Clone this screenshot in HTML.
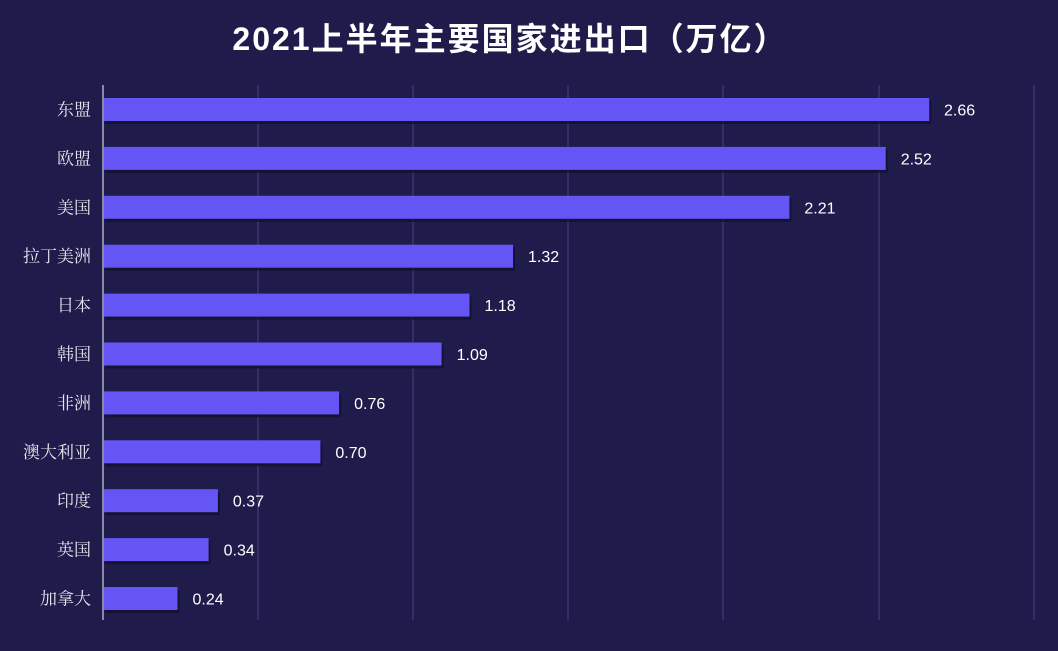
<!DOCTYPE html>
<html><head><meta charset="utf-8"><style>
body{margin:0;width:1058px;height:646px;background:#1f1b4a;overflow:hidden;}
svg text{font-family:"Liberation Sans","Noto Sans CJK SC",sans-serif;}
.l{font-family:"Noto Serif CJK SC",serif !important;fill:#e6e6ee;font-size:17px;}
.v{fill:#ffffff;font-size:16px;}
</style></head><body>
<svg width="1058" height="646" xmlns="http://www.w3.org/2000/svg">
<text x="510" y="50" text-anchor="middle" fill="#ffffff" font-size="32" font-weight="bold" letter-spacing="2">2021上半年主要国家进出口（万亿）</text>
<g stroke="#3a3670" stroke-width="1.5">
<line x1="258" y1="85" x2="258" y2="620"/><line x1="413" y1="85" x2="413" y2="620"/>
<line x1="568" y1="85" x2="568" y2="620"/><line x1="723" y1="85" x2="723" y2="620"/>
<line x1="879" y1="85" x2="879" y2="620"/><line x1="1034" y1="85" x2="1034" y2="620"/>
</g>
<g fill="#13112e" opacity="0.8">
<rect x="105" y="101" width="826.2" height="23"/>
<rect x="105" y="149.9" width="782.7" height="23"/>
<rect x="105" y="198.8" width="686.4" height="23"/>
<rect x="105" y="247.7" width="410" height="23"/>
<rect x="105" y="296.6" width="366.5" height="23"/>
<rect x="105" y="345.5" width="338.6" height="23"/>
<rect x="105" y="394.4" width="236.1" height="23"/>
<rect x="105" y="443.3" width="217.4" height="23"/>
<rect x="105" y="492.2" width="114.9" height="23"/>
<rect x="105" y="541.1" width="105.6" height="23"/>
<rect x="105" y="590" width="74.5" height="23"/>
</g>
<g fill="#6655f5">
<rect x="103" y="98" width="826.2" height="23"/>
<rect x="103" y="146.9" width="782.7" height="23"/>
<rect x="103" y="195.8" width="686.4" height="23"/>
<rect x="103" y="244.7" width="410" height="23"/>
<rect x="103" y="293.6" width="366.5" height="23"/>
<rect x="103" y="342.5" width="338.6" height="23"/>
<rect x="103" y="391.4" width="236.1" height="23"/>
<rect x="103" y="440.3" width="217.4" height="23"/>
<rect x="103" y="489.2" width="114.9" height="23"/>
<rect x="103" y="538.1" width="105.6" height="23"/>
<rect x="103" y="587" width="74.5" height="23"/>
</g>
<g text-anchor="end">
<text class="l" x="91" y="115.5">东盟</text>
<text class="l" x="91" y="164.4">欧盟</text>
<text class="l" x="91" y="213.3">美国</text>
<text class="l" x="91" y="262.2">拉丁美洲</text>
<text class="l" x="91" y="311.1">日本</text>
<text class="l" x="91" y="360">韩国</text>
<text class="l" x="91" y="408.9">非洲</text>
<text class="l" x="91" y="457.8">澳大利亚</text>
<text class="l" x="91" y="506.7">印度</text>
<text class="l" x="91" y="555.6">英国</text>
<text class="l" x="91" y="604.5">加拿大</text>
</g>
<text class="v" x="944" y="115.5">2.66</text>
<text class="v" x="900.7" y="164.4">2.52</text>
<text class="v" x="804.4" y="213.3">2.21</text>
<text class="v" x="528" y="262.2">1.32</text>
<text class="v" x="484.5" y="311.1">1.18</text>
<text class="v" x="456.6" y="360">1.09</text>
<text class="v" x="354.1" y="408.9">0.76</text>
<text class="v" x="335.4" y="457.8">0.70</text>
<text class="v" x="232.9" y="506.7">0.37</text>
<text class="v" x="223.6" y="555.6">0.34</text>
<text class="v" x="192.5" y="604.5">0.24</text>
<line x1="103" y1="85" x2="103" y2="620" stroke="#8a88a8" stroke-width="2"/>
</svg>
</body></html>
